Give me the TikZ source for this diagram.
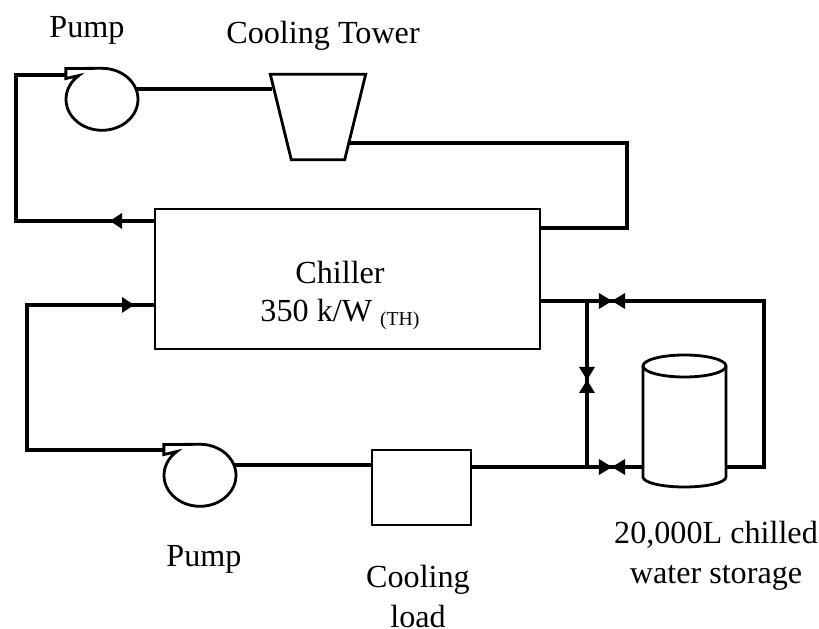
\documentclass[tikz,border=0pt]{standalone}
\usepackage{fontspec}
\setmainfont{Liberation Serif}
\usetikzlibrary{shapes}

\begin{document}
\begin{tikzpicture}[>=latex]
		\useasboundingbox (0, 0) rectangle (8.19, 6.29);
		\tikzstyle{every node} = [font=\fontsize{9.15}{10.2}\selectfont, align=center]
		\tikzstyle{unit} = [draw, line width=.8pt, inner sep=0pt]
		\tikzstyle{pipe} = [line width=1.15pt, line join=miter]

		\node[ellipse, minimum width=.72cm, minimum height=.62cm, inner sep=0pt] (pumpa) at (1.02, 5.29) {};
		\node[ellipse, minimum width=.72cm, minimum height=.62cm, inner sep=0pt] (pumpb) at (2.00, 1.53) {};
		\node[inner sep=0pt, minimum width=.94cm, minimum height=.84cm] (tower) at (3.18, 5.12) {};
		\node[unit, minimum width=3.85cm, minimum height=1.40cm] (chiller) at (3.475, 3.50) {};
		\node[unit, minimum width=.99cm, minimum height=.75cm] (load) at (4.215, 1.415) {};

		\coordinate (pumpa in) at (.66, 5.54);
		\coordinate (pumpb in) at (1.64, 1.79);
		\coordinate (tank l) at (6.43, 1.62);
		\coordinate (tank r) at (7.26, 1.62);
		\coordinate (tee top) at (5.87, 3.28);
		\coordinate (tee bot) at (5.87, 1.62);

		% pumps, tower and tank
		\foreach \p in {pumpa, pumpb}
			\draw[unit] (\p.north) arc[start angle=90, end angle=-230, x radius=.36, y radius=.31]
				-- ++(-.13, -.03) -- ++(0, .10) -- cycle;
		\draw[unit] (tower.north west) -- (tower.north east) -- ([xshift=-.21cm]tower.south east) -- ([xshift=.21cm]tower.south west) -- cycle;
		\draw[unit] (6.845, 2.63) ellipse [x radius=.415, y radius=.11];
		\draw[unit] (6.43, 2.63) -- (6.43, 1.52) arc[start angle=180, end angle=360, x radius=.415, y radius=.10] -- (7.26, 2.63);

		% pipes
		\draw[pipe] (pumpa in) -- (.16, 5.54) -- (.16, 4.08) -- (chiller.west |- 0, 4.08);
		\draw[pipe] (pumpa.18) -- ([xshift=.02cm]tower.west |- pumpa.18);
		\draw[pipe] (3.49, 4.86) -- (6.27, 4.86) -- (6.27, 4.01) -- (chiller.east |- 0, 4.01);
		\draw[pipe] (chiller.west |- 0, 3.24) -- (.27, 3.24) -- (.27, 1.79) -- (pumpb in);
		\draw[pipe] (pumpb.18) -- (load.west |- pumpb.18);
		\draw[pipe] (load.east |- tee bot) -- (tank l);
		\draw[pipe] (tank r) -- (7.64, 1.62) -- (7.64, 3.28) -- (chiller.east |- tee top);
		\draw[pipe] (tee top) -- (tee bot);

		% valves
		\foreach \x/\y/\a in {6.12/3.28/0, 6.12/1.62/0, 5.87/2.49/90}
			\fill[shift={(\x, \y)}, rotate=\a] (-.13, .08) -- (.13, -.08) -- (.13, .08) -- (-.13, -.08) -- cycle;

		% flow arrows
		\fill (1.10, 4.08) -- (1.22, 4.16) -- (1.22, 4.00) -- cycle;
		\fill (1.34, 3.24) -- (1.22, 3.32) -- (1.22, 3.16) -- cycle;

		\node (lpumpa) at (.87, 5.99) {Pump};
		\node (ltower) at (3.23, 5.93) {Cooling Tower};
		\node (lchiller) at (3.40, 3.335) {Chiller\\[.6pt]350 k/W \raisebox{-1pt}{\fontsize{5.6}{6}\selectfont (TH)}};
		\node (lpumpb) at (2.04, .70) {Pump};
		\node (lload) at (4.18, .325) {Cooling\\[.9pt]load};
		\node (ltank) at (7.16, .735) {20,000L chilled\\[1.2pt]water storage};
		\end{tikzpicture}
\end{document}
